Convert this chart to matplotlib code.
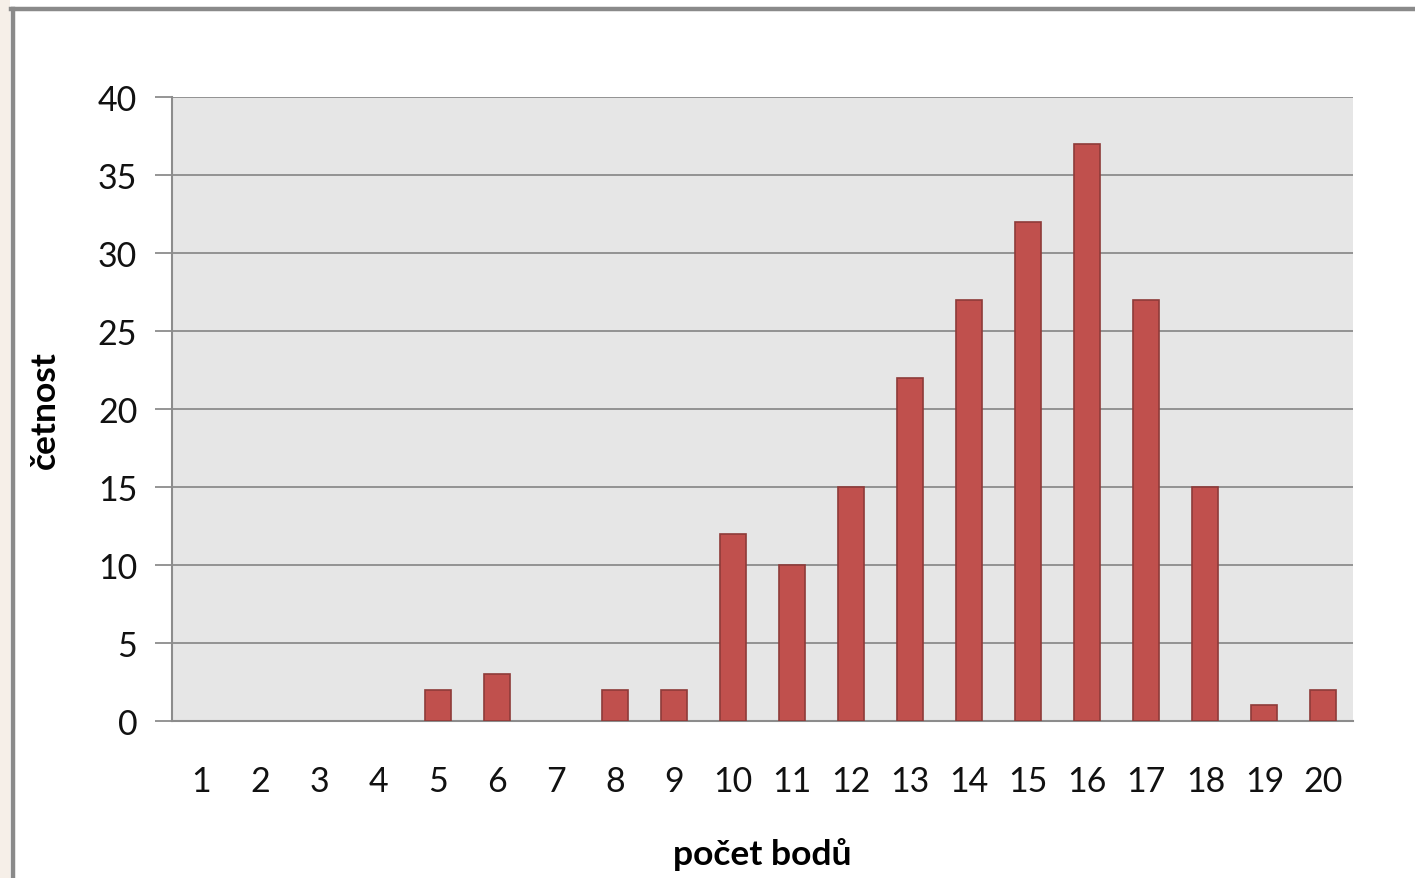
import matplotlib
matplotlib.use("Agg")
import matplotlib.pyplot as plt
from matplotlib.patches import Rectangle
from matplotlib.lines import Line2D

categories = [str(i) for i in range(1, 21)]
values = [0, 0, 0, 0, 2, 3, 0, 2, 2, 12, 10, 15, 22, 27, 32, 37, 27, 15, 1, 2]
y_ticks = [0, 5, 10, 15, 20, 25, 30, 35, 40]

W, H = 1415, 879
fig = plt.figure(figsize=(W / 100, H / 100), dpi=100)
fig.patch.set_facecolor("white")

# left beige strip & frame border
fig.add_artist(Rectangle((0, 0), 10 / W, 1, transform=fig.transFigure,
                         facecolor="#f6efe8", edgecolor="none"))
fig.add_artist(Line2D([12.5 / W, 12.5 / W], [0, 1 - 10 / H], transform=fig.transFigure,
                      color="#8a8a8a", lw=3.2))
fig.add_artist(Line2D([11 / W, 1], [1 - 10 / H, 1 - 10 / H], transform=fig.transFigure,
                      color="#8a8a8a", lw=3.2))

ax = fig.add_axes([172 / W, 1 - 722 / H, (1353 - 172) / W, (722 - 98) / H])
ax.set_facecolor("#e6e6e6")

x = list(range(len(categories)))
edges = ["#8e3b39" if v > 0 else "none" for v in values]
ax.bar(x, values, width=0.44, color="#c0504d", edgecolor=edges, linewidth=1.2, zorder=3)

ax.set_xlim(-0.5, len(categories) - 0.5)
ax.set_ylim(0, 40)
ax.set_yticks(y_ticks)
ax.set_xticks(x)
ax.set_xticklabels(categories)
ax.yaxis.grid(True, color="#8c8c8c", linewidth=1.3, zorder=1)
ax.set_axisbelow(True)

font = "Lato"
for lbl in ax.get_xticklabels() + ax.get_yticklabels():
    lbl.set_fontfamily(font)
    lbl.set_fontsize(24.5)
    lbl.set_color("#111111")

ax.tick_params(axis="y", length=12, width=1.3, color="#8c8c8c", pad=13)
ax.tick_params(axis="x", length=0, pad=32)

for s in ["top", "right"]:
    ax.spines[s].set_visible(False)
for s in ["left", "bottom"]:
    ax.spines[s].set_color("#8c8c8c")
    ax.spines[s].set_linewidth(1.5)

ax.set_xlabel("počet bodů", fontfamily=font, fontsize=25.5, fontweight="bold")
ax.set_ylabel("četnost", fontfamily=font, fontsize=25.5, fontweight="bold")
fig.canvas.draw()
ax.xaxis.set_label_coords(0.5, -(855 - 722) / (722 - 98), transform=ax.transAxes)
ax.xaxis.label.set_verticalalignment("center")
ax.yaxis.set_label_coords(-(172 - 45) / (1353 - 172), 0.5, transform=ax.transAxes)
ax.yaxis.label.set_verticalalignment("center")

fig.savefig("out.png", dpi=100)
